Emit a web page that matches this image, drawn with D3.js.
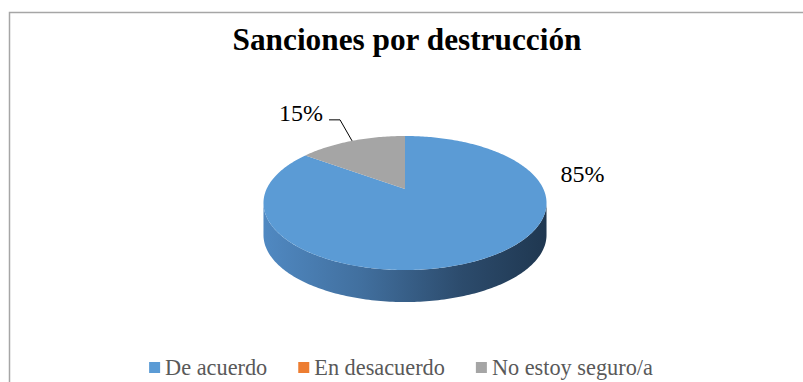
<!DOCTYPE html>
<html>
<head>
<meta charset="utf-8">
<script src="https://cdn.jsdelivr.net/npm/d3@7"></script>
<style>
  html, body { margin: 0; padding: 0; background: #fff; }
  svg { display: block; }
</style>
</head>
<body>
<div id="chart"></div>
<script>
const categories = ["De acuerdo", "En desacuerdo", "No estoy seguro/a"];
const values = [85, 0, 15];
const labels = ["85%", "0%", "15%"];
const colors = ["#5b9bd5", "#ed7d31", "#a5a5a5"];
const title = "Sanciones por destrucción";

const width = 803, height = 382;
const font = '"Liberation Serif"';
const svg = d3.select("#chart").append("svg")
  .attr("width", width).attr("height", height);

// chart frame
svg.append("rect")
  .attr("x", 9.5).attr("y", 12.5)
  .attr("width", 900).attr("height", 500)
  .attr("fill", "#fff").attr("stroke", "#a6a6a6").attr("stroke-width", 1.5);

svg.append("text")
  .attr("x", 407).attr("y", 50)
  .attr("text-anchor", "middle")
  .style("font-family", font)
  .style("font-weight", "bold")
  .style("font-size", "31.3px")
  .attr("fill", "#000")
  .text(title);

// 3D pie with a bit of perspective
const cx = 405, cy = 189;       // projected centre of the top face
const A = 138.4, B = 64.1;      // projected radii
const persp = 0.209;            // far side shrinks
const depth = 32;

function proj(a, dy = 0) {
  const u = Math.sin(a), v = Math.cos(a);
  const s = 1 + persp * v;
  return [cx + A * u / s, cy - B * v / s + dy];
}

function arcPts(a0, a1, dy = 0) {
  const n = Math.max(2, Math.ceil(Math.abs(a1 - a0) / (Math.PI / 180)));
  return d3.range(n + 1).map(i => proj(a0 + (a1 - a0) * i / n, dy));
}

const line = d3.line();
const arcs = d3.pie().sort(null).startAngle(0).endAngle(2 * Math.PI)(values);

const defs = svg.append("defs");
const sideGrad = defs.append("linearGradient")
  .attr("id", "side-grad")
  .attr("gradientUnits", "userSpaceOnUse")
  .attr("x1", cx - A * 1.03).attr("x2", cx + A * 1.03)
  .attr("y1", 0).attr("y2", 0);
[["0%", "#5089c2"], ["35%", "#416f9e"], ["70%", "#2c4b6c"], ["100%", "#1f3750"]]
  .forEach(([o, c]) => sideGrad.append("stop").attr("offset", o).attr("stop-color", c));

// visible range of the side wall (silhouette where cos a = -persp)
const aR = Math.acos(-persp), aL = 2 * Math.PI - aR;
const pie = svg.append("g");

arcs.forEach((d, i) => {
  const a0 = Math.max(d.startAngle, aR), a1 = Math.min(d.endAngle, aL);
  if (d.value <= 0 || a1 <= a0) return;
  const top = arcPts(a0, a1);
  const bot = arcPts(a1, a0, depth);
  pie.append("path")
    .attr("d", line(top.concat(bot)) + "Z")
    .attr("fill", "url(#side-grad)");
});

arcs.forEach((d, i) => {
  if (d.value <= 0) return;
  const pts = [[cx, cy]].concat(arcPts(d.startAngle, d.endAngle));
  pie.append("path")
    .attr("d", line(pts) + "Z")
    .attr("fill", colors[i]);
});

// data labels
// 85% sits outside at the right
svg.append("text")
  .attr("x", cx + A + 17).attr("y", 182)
  .style("font-family", font).style("font-size", "24px").attr("fill", "#000")
  .text(labels[0]);

// 15% with leader line
const g = arcs[2];
const mid = (g.startAngle + g.endAngle) / 2;
const p0 = proj(mid);
const p1 = [p0[0] - 12, p0[1] - 21];
const p2 = [p1[0] - 11, p1[1]];
svg.append("path")
  .attr("d", line([p0, p1, p2]))
  .attr("fill", "none").attr("stroke", "#000").attr("stroke-width", 1);
svg.append("text")
  .attr("x", p2[0] - 6).attr("y", 121)
  .attr("text-anchor", "end")
  .style("font-family", font).style("font-size", "24px").attr("fill", "#000")
  .text(labels[2]);

// legend
const legend = svg.append("g");
const items = legend.selectAll("g").data(categories).join("g");
items.append("rect")
  .attr("y", 362).attr("width", 11).attr("height", 11)
  .attr("fill", (d, i) => colors[i]);
items.append("text")
  .attr("x", 16).attr("y", 375)
  .style("font-family", font).style("font-size", "22.3px").attr("fill", "#595959")
  .text(d => d);
let x = 0;
const gap = 31;
items.each(function () {
  const w = 16 + d3.select(this).select("text").node().getComputedTextLength();
  d3.select(this).attr("transform", `translate(${x},0)`);
  x += w + gap;
});
const total = x - gap;
legend.attr("transform", `translate(${401 - total / 2},0)`);
</script>
</body>
</html>
